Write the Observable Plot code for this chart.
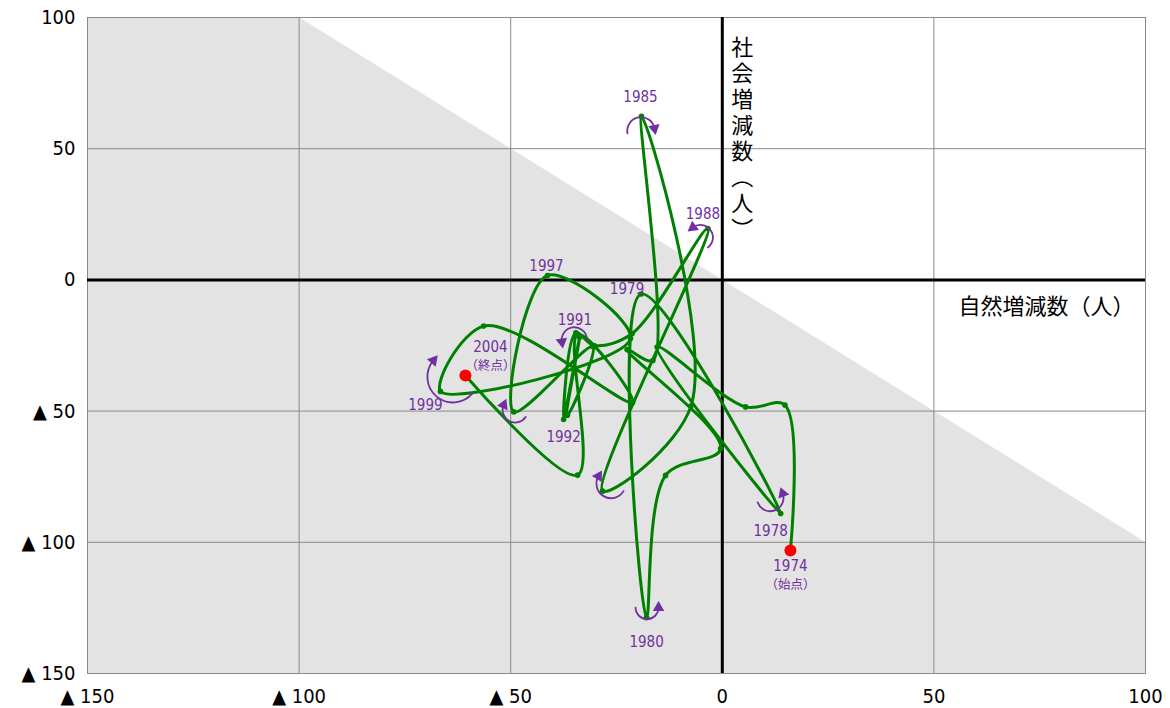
<!DOCTYPE html>
<html><head><meta charset="utf-8">
<script src="https://cdn.jsdelivr.net/npm/d3@7"></script>
<script src="https://cdn.jsdelivr.net/npm/@observablehq/plot@0.6"></script>
<style>
html,body{margin:0;padding:0;background:#fff;}
#chart{width:1170px;height:708px;overflow:hidden;}
</style></head><body><div id="chart"></div>
<script>
// ---- data ----
const years   = [1974,1975,1976,1977,1978,1979,1980,1981,1982,1983,1984,1985,1986,1987,1988,1989,1990,1991,1992,1993,1994,1995,1996,1997,1998,1999,2000,2001,2002,2003,2004];
const natural = [16.1,14.8,5.5,-15.4,13.8,-19.2,-17.9,-13.4,-0.4,-22.5,-16.4,-19.1,-7.4,-28.3,-3.4,-21.3,-30.3,-34.6,-37.5,-33.7,-36.6,-30.6,-49.3,-41.3,-21.7,-66.6,-56.4,-21.2,-34.2,-34.2,-60.7];
const social  = [-103.1,-47.7,-48.4,-25.6,-89.0,-5.4,-128.7,-74.5,-64.3,-26.5,-30.7,62.3,-48.1,-80.5,19.6,-20.4,-25.0,-20.2,-53.2,-21.9,-51.6,-25.4,-50.3,1.7,-22.3,-42.5,-17.6,-46.7,-20.8,-74.4,-36.4];
const xTicks = [-150,-100,-50,0,50,100];
const yTicks = [-150,-100,-50,0,50,100];
const shadeX = [-150,-100,100];
const shadeY = [100,100,-100];
const labelYears = [1974,1978,1979,1980,1985,1988,1991,1992,1997,1999,2004];
const labelTexts = ["1974","1978","1979","1980","1985","1988","1991","1992","1997","1999","2004"];
const noteYears = [1974,2004];
const noteTexts = ["（始点）","（終点）"];
const arrowYears = [1978,1980,1985,1987,1988,1991,1996,1999];
const xTitle = "自然増減数（人）";
const yTitle = "社会増減数（人）";

// ---- layout / style ----
const W = 1170, H = 708, mL = 87, mR = 25, mT = 17, mB = 35;
const pxX = (W - mL - mR) / 250, pxY = (H - mT - mB) / 250;
const purple = "#7030A0", green = "#008000";
const numFont = '"Liberation Sans Narrow","DejaVu Sans Condensed","Noto Sans CJK JP",sans-serif';
const jpFont = '"Noto Sans CJK JP","Noto Sans",sans-serif';
const fmt = d => d < 0 ? `▲ ${-d}` : `${d}`;

const pts = years.map((yr, i) => ({year: yr, x: natural[i], y: social[i]}));
const byYear = new Map(pts.map(p => [p.year, p]));
const shade = shadeX.map((x, i) => ({x, y2: shadeY[i], y1: -150}));

// label pixel offsets (style)
const labelOff = {1974:[0,16],1978:[-10,18],1979:[-14,-5],1980:[0,25],1985:[-1,-19],1988:[-5,-14],1991:[-1,-13],1992:[0,18],1997:[-1,-9],1999:[-15,14],2004:[25,-28]};
const noteOff = {1974:[0,35],2004:[25,-9]};
const labelMarks = labelYears.map((yr, i) => Plot.text([byYear.get(yr)], {
  x: "x", y: "y", text: () => labelTexts[i], dx: labelOff[yr][0], dy: labelOff[yr][1],
  fill: purple, fontSize: 15, fontFamily: numFont
}));
const noteMarks = noteYears.map((yr, i) => Plot.text([byYear.get(yr)], {
  x: "x", y: "y", text: () => noteTexts[i], dx: noteOff[yr][0], dy: noteOff[yr][1],
  fill: purple, fontSize: 12.5, fontFamily: jpFont
}));

// arrow pixel offsets: [sx, sy, ex, ey, bend]
const arrowOff = {
  1985:[-14,17,13,12,90], 1988:[0,19,-15,-1,-90], 1991:[11,5,-14,9,-90],
  1996:[12,5,-10,-7,85], 1999:[32,2,-7,-31,90], 1987:[21,0,-4,-15,90],
  1980:[-11,-10,12,-10,-90], 1978:[-23,-11,2,-20,-90]
};
const arrows = arrowYears.map(yr => {
  const p = byYear.get(yr), o = arrowOff[yr];
  const alpha = Math.atan2(o[3] - o[1], o[2] - o[0]) * 180 / Math.PI;
  return {
    x1: p.x + o[0] / pxX, y1: p.y - o[1] / pxY,
    x2: p.x + o[2] / pxX, y2: p.y - o[3] / pxY,
    bend: o[4], rot: alpha + o[4] + 90
  };
});

const chart = Plot.plot({
  width: W, height: H,
  marginLeft: mL, marginRight: mR, marginTop: mT, marginBottom: mB,
  style: {fontSize: "20px", color: "#000", background: "#fff", fontFamily: numFont},
  x: {domain: [-150, 100]},
  y: {domain: [-150, 100]},
  marks: [
    Plot.areaY(shade, {x: "x", y1: "y1", y2: "y2", fill: "#e3e3e3"}),
    Plot.gridX(xTicks, {stroke: "#8a8a8a", strokeOpacity: 1, strokeWidth: 1}),
    Plot.gridY(yTicks, {stroke: "#8a8a8a", strokeOpacity: 1, strokeWidth: 1}),
    Plot.frame({stroke: "#8a8a8a"}),
    Plot.ruleX([0], {stroke: "#000", strokeWidth: 3}),
    Plot.ruleY([0], {stroke: "#000", strokeWidth: 3}),
    Plot.axisX({ticks: xTicks, tickFormat: fmt, tickSize: 0, tickPadding: 15, label: null, fontSize: 20, fontFamily: numFont}),
    Plot.axisY({ticks: yTicks, tickFormat: fmt, tickSize: 0, tickPadding: 12, label: null, fontSize: 20, fontFamily: numFont}),
    Plot.line(pts, {x: "x", y: "y", curve: "catmull-rom", stroke: green, strokeWidth: 3}),
    Plot.dot(pts, {x: "x", y: "y", r: 2.8, fill: green}),
    Plot.dot([pts[0], pts[pts.length - 1]], {x: "x", y: "y", r: 6, fill: "#ff0000"}),
    ...arrows.map(a => Plot.arrow([a], {x1: "x1", y1: "y1", x2: "x2", y2: "y2", bend: a.bend, headLength: 0, stroke: purple, strokeWidth: 1.8})),
    Plot.dot(arrows, {x: "x2", y: "y2", symbol: "triangle2", r: 5.5, fill: purple, rotate: "rot"}),
    ...labelMarks,
    ...noteMarks,
    Plot.text([xTitle], {x: 100, y: 0, text: d => d, dx: -99, dy: 27, fontSize: 22, fill: "#000", fontFamily: jpFont}),
    Plot.text([yTitle], {x: 0, y: 56, text: d => d, dx: 20, fontSize: 22, fill: "#000", fontFamily: jpFont})
  ]
});
// vertical writing for the y title
d3.select(chart).selectAll("text").filter(function() { return this.textContent === yTitle; })
  .attr("writing-mode", "vertical-rl")
  .style("letter-spacing", "4px");
document.getElementById("chart").appendChild(chart);
</script>
</body></html>
